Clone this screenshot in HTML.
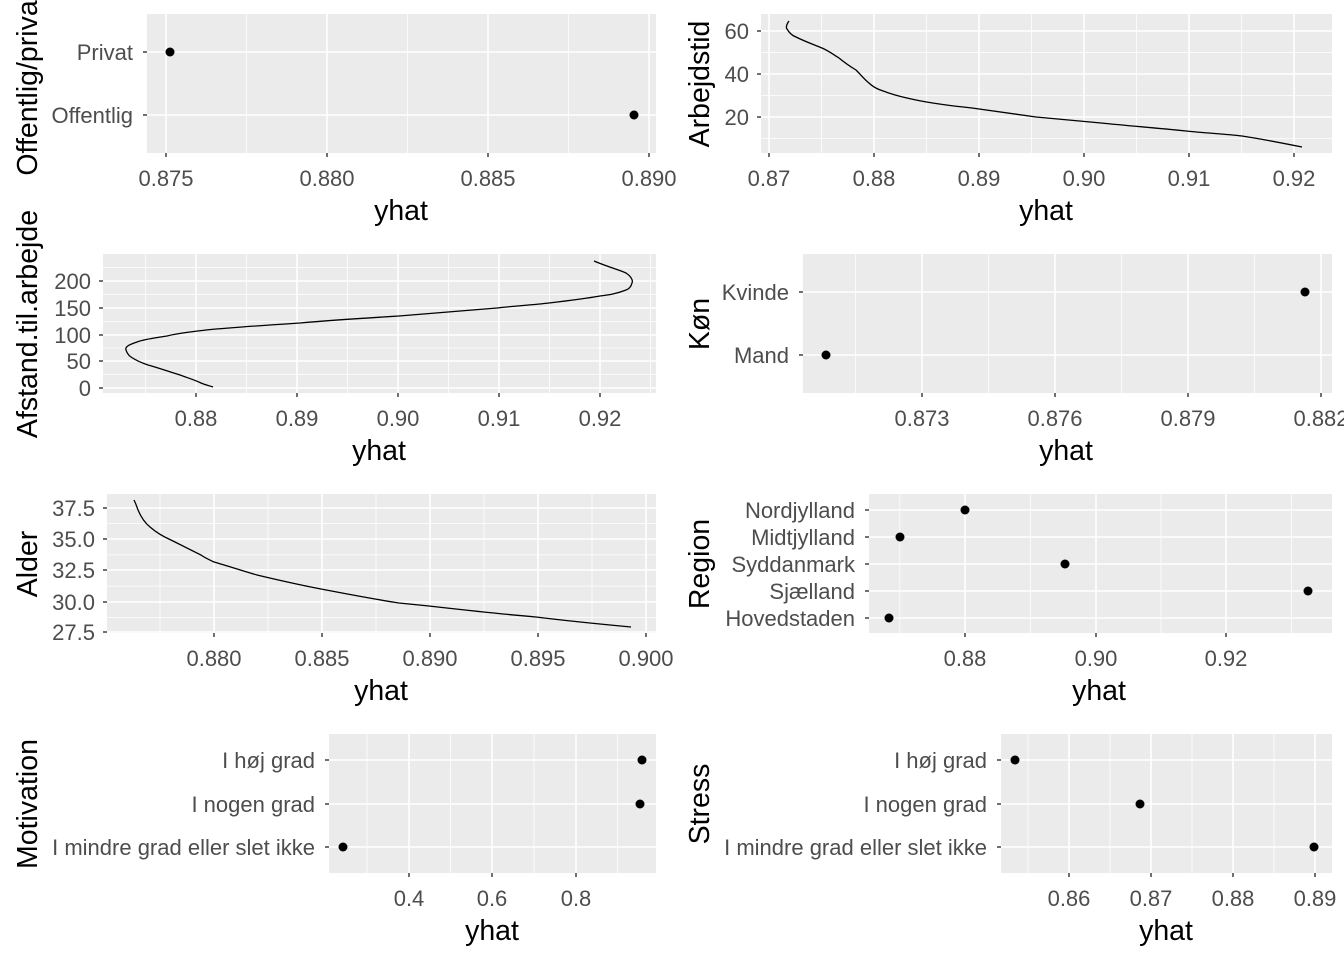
<!DOCTYPE html>
<html><head><meta charset="utf-8"><style>
html,body{margin:0;padding:0;background:#fff}
svg{display:block}
.t{font-family:"Liberation Sans",sans-serif;font-size:22px;fill:#4d4d4d}
.ti{font-family:"Liberation Sans",sans-serif;font-size:28.5px;fill:#000}
.p{fill:#ebebeb}
.M{stroke:#fff;stroke-width:1.6}
.m{stroke:#fff;stroke-width:0.8}
.k{stroke:#333;stroke-width:1.4}
.c{fill:none;stroke:#000;stroke-width:1.3}
</style></head><body>
<svg width="1344" height="960" xmlns="http://www.w3.org/2000/svg">
<!-- Panel 1 -->
<rect class="p" x="147" y="14" width="509" height="139"/>
<g class="m"><line x1="246.5" y1="14" x2="246.5" y2="153"/><line x1="407.5" y1="14" x2="407.5" y2="153"/><line x1="568.5" y1="14" x2="568.5" y2="153"/></g>
<g class="M"><line x1="166" y1="14" x2="166" y2="153"/><line x1="327" y1="14" x2="327" y2="153"/><line x1="488" y1="14" x2="488" y2="153"/><line x1="649" y1="14" x2="649" y2="153"/>
<line x1="147" y1="52" x2="656" y2="52"/><line x1="147" y1="115" x2="656" y2="115"/></g>
<g class="k"><line x1="166" y1="153" x2="166" y2="157"/><line x1="327" y1="153" x2="327" y2="157"/><line x1="488" y1="153" x2="488" y2="157"/><line x1="649" y1="153" x2="649" y2="157"/><line x1="143" y1="52" x2="147" y2="52"/><line x1="143" y1="115" x2="147" y2="115"/></g>
<circle cx="170" cy="52" r="4.5"/><circle cx="634" cy="115" r="4.5"/>
<g class="t" text-anchor="middle"><text x="166" y="186">0.875</text><text x="327" y="186">0.880</text><text x="488" y="186">0.885</text><text x="649" y="186">0.890</text></g>
<g class="t" text-anchor="end"><text x="133" y="60">Privat</text><text x="133" y="123">Offentlig</text></g>
<text class="ti" x="401" y="220" text-anchor="middle">yhat</text>
<text class="ti" transform="translate(37,84) rotate(-90)" text-anchor="middle">Offentlig/privat</text>

<!-- Panel 2 -->
<rect class="p" x="761" y="14" width="571" height="139"/>
<g class="m"><line x1="821.5" y1="14" x2="821.5" y2="153"/><line x1="926.5" y1="14" x2="926.5" y2="153"/><line x1="1031.5" y1="14" x2="1031.5" y2="153"/><line x1="1136.5" y1="14" x2="1136.5" y2="153"/><line x1="1241.5" y1="14" x2="1241.5" y2="153"/>
<line x1="761" y1="52.5" x2="1332" y2="52.5"/><line x1="761" y1="95.5" x2="1332" y2="95.5"/><line x1="761" y1="138.5" x2="1332" y2="138.5"/></g>
<g class="M"><line x1="769" y1="14" x2="769" y2="153"/><line x1="874" y1="14" x2="874" y2="153"/><line x1="979" y1="14" x2="979" y2="153"/><line x1="1084" y1="14" x2="1084" y2="153"/><line x1="1189" y1="14" x2="1189" y2="153"/><line x1="1294" y1="14" x2="1294" y2="153"/>
<line x1="761" y1="31" x2="1332" y2="31"/><line x1="761" y1="74" x2="1332" y2="74"/><line x1="761" y1="117" x2="1332" y2="117"/></g>
<g class="k"><line x1="769" y1="153" x2="769" y2="157"/><line x1="874" y1="153" x2="874" y2="157"/><line x1="979" y1="153" x2="979" y2="157"/><line x1="1084" y1="153" x2="1084" y2="157"/><line x1="1189" y1="153" x2="1189" y2="157"/><line x1="1294" y1="153" x2="1294" y2="157"/>
<line x1="757" y1="31" x2="761" y2="31"/><line x1="757" y1="74" x2="761" y2="74"/><line x1="757" y1="117" x2="761" y2="117"/></g>
<path class="c" d="M789,21 C786,25 786,28 787,29 C790,34 793,36 796,37 C806,42 815,45 822,48 C829,51 834,55 839,58 C845,63 851,67 856,70 C861,75 865,80 869,83 C874,88 880,90 886,92 C896,96 906,98 916,100 C935,104 953,106 972,108 C993,111 1014,114 1036,117 C1058,119 1079,121 1101,123 C1130,126 1158,128 1186,131 C1205,133 1224,134 1242,136 C1262,139 1282,143 1302,147"/>
<g class="t" text-anchor="middle"><text x="769" y="186">0.87</text><text x="874" y="186">0.88</text><text x="979" y="186">0.89</text><text x="1084" y="186">0.90</text><text x="1189" y="186">0.91</text><text x="1294" y="186">0.92</text></g>
<g class="t" text-anchor="end"><text x="749" y="39">60</text><text x="749" y="82">40</text><text x="749" y="125">20</text></g>
<text class="ti" x="1046" y="220" text-anchor="middle">yhat</text>
<text class="ti" transform="translate(709,84) rotate(-90)" text-anchor="middle">Arbejdstid</text>

<!-- Panel 3 -->
<rect class="p" x="103" y="254" width="553" height="139"/>
<g class="m"><line x1="145.5" y1="254" x2="145.5" y2="393"/><line x1="246.5" y1="254" x2="246.5" y2="393"/><line x1="347.5" y1="254" x2="347.5" y2="393"/><line x1="448.5" y1="254" x2="448.5" y2="393"/><line x1="549.5" y1="254" x2="549.5" y2="393"/><line x1="650.5" y1="254" x2="650.5" y2="393"/>
<line x1="103" y1="267.6" x2="656" y2="267.6"/><line x1="103" y1="294.5" x2="656" y2="294.5"/><line x1="103" y1="321.5" x2="656" y2="321.5"/><line x1="103" y1="348" x2="656" y2="348"/><line x1="103" y1="374.6" x2="656" y2="374.6"/></g>
<g class="M"><line x1="196" y1="254" x2="196" y2="393"/><line x1="297" y1="254" x2="297" y2="393"/><line x1="398" y1="254" x2="398" y2="393"/><line x1="499" y1="254" x2="499" y2="393"/><line x1="600" y1="254" x2="600" y2="393"/>
<line x1="103" y1="281" x2="656" y2="281"/><line x1="103" y1="308" x2="656" y2="308"/><line x1="103" y1="335" x2="656" y2="335"/><line x1="103" y1="361" x2="656" y2="361"/><line x1="103" y1="388" x2="656" y2="388"/></g>
<g class="k"><line x1="196" y1="393" x2="196" y2="397"/><line x1="297" y1="393" x2="297" y2="397"/><line x1="398" y1="393" x2="398" y2="397"/><line x1="499" y1="393" x2="499" y2="397"/><line x1="600" y1="393" x2="600" y2="397"/>
<line x1="99" y1="281" x2="103" y2="281"/><line x1="99" y1="308" x2="103" y2="308"/><line x1="99" y1="335" x2="103" y2="335"/><line x1="99" y1="361" x2="103" y2="361"/><line x1="99" y1="388" x2="103" y2="388"/></g>
<path class="c" d="M594,261 C608,267 620,270 626,273 C632,277 633,281 632,283 C631,287 629,289 626,290 C616,294 608,295 600,296 C583,299 566,301 549,303 C532,305 514,306 497,308 C464,311 432,313 399,316 C366,318 333,320 300,323 C269,325 237,327 206,330 C190,332 178,333 167,336 C155,338 145,339 137,342 C128,345 125,347 126,350 C127,353 128,355 131,357 C137,361 142,363 148,365 C159,368 170,372 180,375 C188,378 195,380 201,383 C206,385 210,386 213,387"/>
<g class="t" text-anchor="middle"><text x="196" y="426">0.88</text><text x="297" y="426">0.89</text><text x="398" y="426">0.90</text><text x="499" y="426">0.91</text><text x="600" y="426">0.92</text></g>
<g class="t" text-anchor="end"><text x="91" y="289">200</text><text x="91" y="316">150</text><text x="91" y="343">100</text><text x="91" y="369">50</text><text x="91" y="396">0</text></g>
<text class="ti" x="379" y="460" text-anchor="middle">yhat</text>
<text class="ti" transform="translate(37,324) rotate(-90)" text-anchor="middle">Afstand.til.arbejde</text>

<!-- Panel 4 -->
<rect class="p" x="803" y="254" width="529" height="139"/>
<g class="m"><line x1="855.5" y1="254" x2="855.5" y2="393"/><line x1="988.5" y1="254" x2="988.5" y2="393"/><line x1="1121.5" y1="254" x2="1121.5" y2="393"/><line x1="1254.5" y1="254" x2="1254.5" y2="393"/></g>
<g class="M"><line x1="922" y1="254" x2="922" y2="393"/><line x1="1055" y1="254" x2="1055" y2="393"/><line x1="1188" y1="254" x2="1188" y2="393"/><line x1="1321" y1="254" x2="1321" y2="393"/>
<line x1="803" y1="292" x2="1332" y2="292"/><line x1="803" y1="355" x2="1332" y2="355"/></g>
<g class="k"><line x1="922" y1="393" x2="922" y2="397"/><line x1="1055" y1="393" x2="1055" y2="397"/><line x1="1188" y1="393" x2="1188" y2="397"/><line x1="1321" y1="393" x2="1321" y2="397"/><line x1="799" y1="292" x2="803" y2="292"/><line x1="799" y1="355" x2="803" y2="355"/></g>
<circle cx="1305" cy="292" r="4.5"/><circle cx="826" cy="355" r="4.5"/>
<g class="t" text-anchor="middle"><text x="922" y="426">0.873</text><text x="1055" y="426">0.876</text><text x="1188" y="426">0.879</text><text x="1321" y="426">0.882</text></g>
<g class="t" text-anchor="end"><text x="789" y="300">Kvinde</text><text x="789" y="363">Mand</text></g>
<text class="ti" x="1066" y="460" text-anchor="middle">yhat</text>
<text class="ti" transform="translate(709,324) rotate(-90)" text-anchor="middle">Køn</text>

<!-- Panel 5 -->
<rect class="p" x="107" y="494" width="549" height="139"/>
<g class="m"><line x1="160" y1="494" x2="160" y2="633"/><line x1="268" y1="494" x2="268" y2="633"/><line x1="376" y1="494" x2="376" y2="633"/><line x1="484" y1="494" x2="484" y2="633"/><line x1="592" y1="494" x2="592" y2="633"/>
<line x1="107" y1="523.6" x2="656" y2="523.6"/><line x1="107" y1="554.9" x2="656" y2="554.9"/><line x1="107" y1="586.1" x2="656" y2="586.1"/><line x1="107" y1="617.4" x2="656" y2="617.4"/></g>
<g class="M"><line x1="214" y1="494" x2="214" y2="633"/><line x1="322" y1="494" x2="322" y2="633"/><line x1="430" y1="494" x2="430" y2="633"/><line x1="538" y1="494" x2="538" y2="633"/><line x1="646" y1="494" x2="646" y2="633"/>
<line x1="107" y1="508" x2="656" y2="508"/><line x1="107" y1="539" x2="656" y2="539"/><line x1="107" y1="570" x2="656" y2="570"/><line x1="107" y1="602" x2="656" y2="602"/><line x1="107" y1="632" x2="656" y2="632"/></g>
<g class="k"><line x1="214" y1="633" x2="214" y2="637"/><line x1="322" y1="633" x2="322" y2="637"/><line x1="430" y1="633" x2="430" y2="637"/><line x1="538" y1="633" x2="538" y2="637"/><line x1="646" y1="633" x2="646" y2="637"/>
<line x1="103" y1="508" x2="107" y2="508"/><line x1="103" y1="539" x2="107" y2="539"/><line x1="103" y1="570" x2="107" y2="570"/><line x1="103" y1="602" x2="107" y2="602"/><line x1="103" y1="632" x2="107" y2="632"/></g>
<path class="c" d="M134,500 C136,504 137,507 138,510 C141,517 145,523 150,527 C157,533 164,537 171,540 C181,545 191,550 201,555 C205,558 210,560 214,562 C228,566 243,571 257,575 C278,580 300,585 321,589 C347,594 373,599 399,603 C409,604 419,605 429,606 C465,610 500,614 536,617 C568,621 599,624 631,627"/>
<g class="t" text-anchor="middle"><text x="214" y="666">0.880</text><text x="322" y="666">0.885</text><text x="430" y="666">0.890</text><text x="538" y="666">0.895</text><text x="646" y="666">0.900</text></g>
<g class="t" text-anchor="end"><text x="95" y="516">37.5</text><text x="95" y="547">35.0</text><text x="95" y="578">32.5</text><text x="95" y="610">30.0</text><text x="95" y="640">27.5</text></g>
<text class="ti" x="381" y="700" text-anchor="middle">yhat</text>
<text class="ti" transform="translate(37,564) rotate(-90)" text-anchor="middle">Alder</text>

<!-- Panel 6 -->
<rect class="p" x="869" y="494" width="463" height="139"/>
<g class="m"><line x1="899.8" y1="494" x2="899.8" y2="633"/><line x1="1030.5" y1="494" x2="1030.5" y2="633"/><line x1="1161" y1="494" x2="1161" y2="633"/><line x1="1291.5" y1="494" x2="1291.5" y2="633"/></g>
<g class="M"><line x1="965" y1="494" x2="965" y2="633"/><line x1="1096" y1="494" x2="1096" y2="633"/><line x1="1226" y1="494" x2="1226" y2="633"/>
<line x1="869" y1="510" x2="1332" y2="510"/><line x1="869" y1="537" x2="1332" y2="537"/><line x1="869" y1="564" x2="1332" y2="564"/><line x1="869" y1="591" x2="1332" y2="591"/><line x1="869" y1="618" x2="1332" y2="618"/></g>
<g class="k"><line x1="965" y1="633" x2="965" y2="637"/><line x1="1096" y1="633" x2="1096" y2="637"/><line x1="1226" y1="633" x2="1226" y2="637"/>
<line x1="865" y1="510" x2="869" y2="510"/><line x1="865" y1="537" x2="869" y2="537"/><line x1="865" y1="564" x2="869" y2="564"/><line x1="865" y1="591" x2="869" y2="591"/><line x1="865" y1="618" x2="869" y2="618"/></g>
<circle cx="965" cy="510" r="4.5"/><circle cx="900" cy="537" r="4.5"/><circle cx="1065" cy="564" r="4.5"/><circle cx="1308" cy="591" r="4.5"/><circle cx="889" cy="618" r="4.5"/>
<g class="t" text-anchor="middle"><text x="965" y="666">0.88</text><text x="1096" y="666">0.90</text><text x="1226" y="666">0.92</text></g>
<g class="t" text-anchor="end"><text x="855" y="518">Nordjylland</text><text x="855" y="545">Midtjylland</text><text x="855" y="572">Syddanmark</text><text x="855" y="599">Sjælland</text><text x="855" y="626">Hovedstaden</text></g>
<text class="ti" x="1099" y="700" text-anchor="middle">yhat</text>
<text class="ti" transform="translate(709,564) rotate(-90)" text-anchor="middle">Region</text>

<!-- Panel 7 -->
<rect class="p" x="329" y="734" width="327" height="139"/>
<g class="m"><line x1="367" y1="734" x2="367" y2="873"/><line x1="450.5" y1="734" x2="450.5" y2="873"/><line x1="534" y1="734" x2="534" y2="873"/><line x1="617.5" y1="734" x2="617.5" y2="873"/></g>
<g class="M"><line x1="409" y1="734" x2="409" y2="873"/><line x1="492" y1="734" x2="492" y2="873"/><line x1="576" y1="734" x2="576" y2="873"/>
<line x1="329" y1="760" x2="656" y2="760"/><line x1="329" y1="804" x2="656" y2="804"/><line x1="329" y1="847" x2="656" y2="847"/></g>
<g class="k"><line x1="409" y1="873" x2="409" y2="877"/><line x1="492" y1="873" x2="492" y2="877"/><line x1="576" y1="873" x2="576" y2="877"/>
<line x1="325" y1="760" x2="329" y2="760"/><line x1="325" y1="804" x2="329" y2="804"/><line x1="325" y1="847" x2="329" y2="847"/></g>
<circle cx="642" cy="760" r="4.5"/><circle cx="640" cy="804" r="4.5"/><circle cx="343" cy="847" r="4.5"/>
<g class="t" text-anchor="middle"><text x="409" y="906">0.4</text><text x="492" y="906">0.6</text><text x="576" y="906">0.8</text></g>
<g class="t" text-anchor="end"><text x="315" y="768">I høj grad</text><text x="315" y="812">I nogen grad</text><text x="315" y="855">I mindre grad eller slet ikke</text></g>
<text class="ti" x="492" y="940" text-anchor="middle">yhat</text>
<text class="ti" transform="translate(37,804) rotate(-90)" text-anchor="middle">Motivation</text>

<!-- Panel 8 -->
<rect class="p" x="1001" y="734" width="331" height="139"/>
<g class="m"><line x1="1028" y1="734" x2="1028" y2="873"/><line x1="1110" y1="734" x2="1110" y2="873"/><line x1="1192" y1="734" x2="1192" y2="873"/><line x1="1274" y1="734" x2="1274" y2="873"/></g>
<g class="M"><line x1="1069" y1="734" x2="1069" y2="873"/><line x1="1151" y1="734" x2="1151" y2="873"/><line x1="1233" y1="734" x2="1233" y2="873"/><line x1="1315" y1="734" x2="1315" y2="873"/>
<line x1="1001" y1="760" x2="1332" y2="760"/><line x1="1001" y1="804" x2="1332" y2="804"/><line x1="1001" y1="847" x2="1332" y2="847"/></g>
<g class="k"><line x1="1069" y1="873" x2="1069" y2="877"/><line x1="1151" y1="873" x2="1151" y2="877"/><line x1="1233" y1="873" x2="1233" y2="877"/><line x1="1315" y1="873" x2="1315" y2="877"/>
<line x1="997" y1="760" x2="1001" y2="760"/><line x1="997" y1="804" x2="1001" y2="804"/><line x1="997" y1="847" x2="1001" y2="847"/></g>
<circle cx="1015" cy="760" r="4.5"/><circle cx="1140" cy="804" r="4.5"/><circle cx="1314" cy="847" r="4.5"/>
<g class="t" text-anchor="middle"><text x="1069" y="906">0.86</text><text x="1151" y="906">0.87</text><text x="1233" y="906">0.88</text><text x="1315" y="906">0.89</text></g>
<g class="t" text-anchor="end"><text x="987" y="768">I høj grad</text><text x="987" y="812">I nogen grad</text><text x="987" y="855">I mindre grad eller slet ikke</text></g>
<text class="ti" x="1166" y="940" text-anchor="middle">yhat</text>
<text class="ti" transform="translate(709,804) rotate(-90)" text-anchor="middle">Stress</text>
</svg>
</body></html>
